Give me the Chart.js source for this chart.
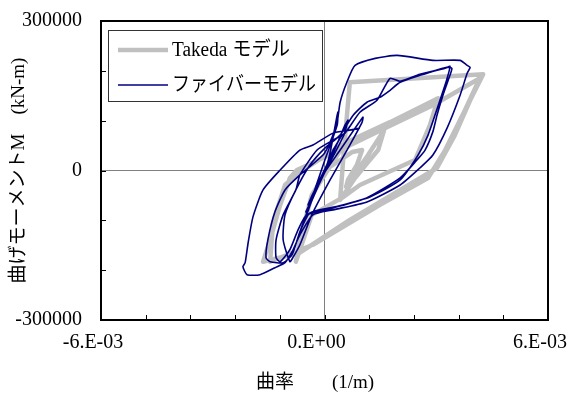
<!DOCTYPE html>
<html>
<head>
<meta charset="utf-8">
<script src="https://cdn.jsdelivr.net/npm/chart.js@4.4.0/dist/chart.umd.min.js"></script>
<style>body{margin:0;background:#fff}</style>
</head>
<body>
<canvas id="hysChart" width="579" height="394"></canvas>
<script>
// curvature (1/m) and moment (kN-m)
const takedaCurv = [0, 0.42e-3, 0.74e-3, 1.01e-3, 0.87e-3, 0.63e-3, 0.58e-3, 0.74e-3, 1.17e-3, 1.60e-3,
  1.44e-3, 1.17e-3, 0.82e-3, 0.42e-3, 0.50e-3, 0.58e-3, 0.68e-3, 2.03e-3, 4.26e-3, 3.91e-3,
  3.50e-3, 3.02e-3, 2.03e-3, 0.68e-3, -0.66e-3, -1.65e-3, -1.46e-3, -1.19e-3, -0.93e-3, -0.74e-3,
  0.42e-3, 1.62e-3, 2.91e-3, 4.17e-3, 3.77e-3, 3.24e-3, 2.78e-3, 1.49e-3, -0.31e-3, -1.46e-3,
  -1.38e-3, -1.06e-3, -0.66e-3, 0.55e-3, 1.76e-3, 3.05e-3, 2.83e-3, 2.43e-3, 0.95e-3, 0.47e-3,
  -0.34e-3, -0.77e-3, -0.66e-3, -0.34e-3, 0.55e-3];
const takedaMom = [0, 21000, 37000, 41000, 11000, -19000, -33000, -15000, 31000, 81000,
  41000, 17000, -15000, -59000, 21000, 91000, 177000, 183000, 193000, 141000,
  71000, 5000, -39000, -99000, -165000, -183000, -139000, -69000, -15000, 1000,
  41000, 85000, 131000, 185000, 121000, 41000, -15000, -69000, -149000, -183000,
  -103000, -29000, -3000, 55000, 97000, 145000, 91000, 21000, -29000, -55000,
  -89000, -183000, -139000, -49000, 55000];

const fiberCurv = [0, 0.23e-3, 0.47e-3, 0.36e-3, -0.07e-3, -0.44e-3, -0.34e-3, 0.15e-3, 0.55e-3, 0.63e-3,
  0.52e-3, 0.04e-3, -0.50e-3, -0.39e-3, 0.09e-3, 0.34e-3, 0.36e-3, 0.34e-3, 0.01e-3, -0.52e-3,
  -0.66e-3, -0.55e-3, -0.12e-3, 0.42e-3, 1.03e-3, 1.01e-3, 0.68e-3, 0.15e-3, -0.34e-3, -0.66e-3,
  -0.85e-3, -0.93e-3, -1.11e-3, -1.06e-3, -0.77e-3, -0.39e-3, 0.01e-3, 0.42e-3, 0.77e-3, 1.14e-3,
  1.49e-3, 1.76e-3, 2.03e-3, 2.56e-3, 3.28e-3, 3.42e-3, 3.32e-3, 3.18e-3, 3.02e-3, 2.91e-3,
  2.70e-3, 2.48e-3, 2.03e-3, 1.13e-3, 0.23e-3, -0.48e-3, -0.71e-3, -0.93e-3, -1.19e-3, -1.30e-3,
  -1.30e-3, -1.11e-3, -0.77e-3, -0.66e-3, -0.20e-3, 0.23e-3, 0.55e-3, 0.95e-3, 1.41e-3, 1.76e-3,
  2.03e-3, 2.56e-3, 3.24e-3, 3.37e-3, 3.26e-3, 3.10e-3, 2.78e-3, 2.51e-3, 2.03e-3, 1.22e-3,
  0.28e-3, -0.39e-3, -0.66e-3, -0.87e-3, -1.11e-3, -1.46e-3, -1.57e-3, -1.52e-3, -1.33e-3, -1.06e-3,
  -0.66e-3, -0.04e-3, 0.15e-3, 0.34e-3, 0.42e-3, 0.60e-3, 0.82e-3, 1.36e-3, 1.95e-3, 2.91e-3,
  3.64e-3, 3.83e-3, 3.91e-3, 3.83e-3, 3.64e-3, 3.29e-3, 2.91e-3, 2.56e-3, 2.03e-3, 1.14e-3,
  0.23e-3, -0.31e-3, -0.66e-3, -0.87e-3, -1.06e-3, -1.33e-3, -1.73e-3, -2.08e-3, -2.19e-3, -2.13e-3,
  -2.05e-3, -1.92e-3, -1.65e-3, -1.19e-3, -0.66e-3, -0.31e-3, 0.23e-3, 0.68e-3, 0.95e-3];
const fiberMom = [0, 41000, 71000, 57000, -9000, -69000, -51000, 21000, 91000, 101000,
  71000, 1000, -83000, -69000, 17000, 111000, 117000, 91000, 21000, -95000,
  -123000, -103000, -19000, 41000, 107000, 97000, 51000, -19000, -89000, -149000,
  -175000, -183000, -139000, -89000, -39000, 11000, 45000, 71000, 111000, 137000,
  147000, 161000, 177000, 191000, 207000, 205000, 181000, 151000, 111000, 78000,
  41000, 21000, -15000, -55000, -75000, -89000, -119000, -159000, -183000, -175000,
  -139000, -89000, -39000, -9000, 41000, 61000, 75000, 117000, 141000, 185000,
  179000, 193000, 205000, 209000, 177000, 141000, 71000, 31000, -19000, -53000,
  -73000, -85000, -123000, -169000, -185000, -183000, -175000, -139000, -83000, -39000,
  -9000, 31000, 57000, 97000, 137000, 177000, 211000, 225000, 231000, 221000,
  221000, 211000, 207000, 195000, 151000, 85000, 31000, 5000, -29000, -63000,
  -79000, -89000, -129000, -163000, -185000, -195000, -209000, -209000, -193000, -185000,
  -145000, -93000, -39000, 1000, 41000, 51000, 75000, 81000, 85000];

const xMin = -6e-3, xMax = 6e-3, xStep = 1.2e-3;
const yMin = -300000, yMax = 300000, yStep = 100000;

function toPts(xs, ys) {
  return xs.map((x, i) => ({ x: x, y: ys[i] }));
}

// Excel style "-6.E-03"
function sciLabel(v) {
  if (Math.abs(v) < 1e-12) return '0.E+00';
  const e = Math.floor(Math.log10(Math.abs(v)) + 1e-9);
  const m = Math.round(v / Math.pow(10, e));
  const ea = String(Math.abs(e)).padStart(2, '0');
  return m + '.E' + (e < 0 ? '-' : '+') + ea;
}

const serif = '"Liberation Serif", "Times New Roman", serif';
const jp = '"Liberation Serif", "Noto Sans CJK JP", sans-serif';

const frame = {
  id: 'frame',
  afterDraw(chart) {
    const c = chart.ctx, a = chart.chartArea;
    const xs = chart.scales.x, ys = chart.scales.y;
    c.save();
    c.strokeStyle = '#000';
    c.lineWidth = 1;
    // inward tick marks
    c.beginPath();
    xs.ticks.forEach(t => {
      const px = Math.round(xs.getPixelForValue(t.value)) + 0.5;
      c.moveTo(px, a.bottom); c.lineTo(px, a.bottom - 5);
    });
    ys.ticks.forEach(t => {
      const py = Math.round(ys.getPixelForValue(t.value)) + 0.5;
      c.moveTo(a.left, py); c.lineTo(a.left + 5, py);
    });
    c.stroke();
    c.lineWidth = 2;
    c.strokeRect(a.left, a.top, a.right - a.left, a.bottom - a.top);

    // legend box
    const lx = 108, ly = 30, lw = 214, lh = 71;
    c.fillStyle = '#fff';
    c.fillRect(lx, ly, lw, lh);
    c.lineWidth = 1;
    c.strokeStyle = '#333';
    c.strokeRect(lx + 0.5, ly + 0.5, lw, lh);
    const rows = [50, 85];
    const widths = [118, 144];
    chart.data.datasets.forEach((ds, i) => {
      const y = rows[i];
      c.strokeStyle = ds.borderColor;
      c.lineWidth = ds.borderWidth;
      c.beginPath();
      c.moveTo(118, y); c.lineTo(168, y);
      c.stroke();
      c.fillStyle = '#000';
      c.font = '20px ' + jp;
      c.textBaseline = 'middle';
      c.textAlign = 'left';
      c.fillText(ds.label, 172, y + 1, widths[i]);
    });
    c.restore();
  }
};

new Chart(document.getElementById('hysChart'), {
  type: 'scatter',
  data: {
    datasets: [{
      label: 'Takeda モデル',
      data: toPts(takedaCurv, takedaMom),
      showLine: true,
      borderColor: '#C0C0C0',
      borderWidth: 4.5,
      pointRadius: 0,
      borderJoinStyle: 'round',
      order: 2
    }, {
      label: 'ファイバーモデル',
      data: toPts(fiberCurv, fiberMom),
      showLine: true,
      borderColor: '#000080',
      borderWidth: 1.6,
      pointRadius: 0,
      tension: 0.2,
      order: 1
    }]
  },
  options: {
    responsive: false,
    animation: false,
    devicePixelRatio: 1,
    layout: { padding: { top: 21, right: 31, left: 0, bottom: 0 } },
    plugins: { legend: { display: false }, tooltip: { enabled: false } },
    scales: {
      x: {
        type: 'linear',
        min: xMin, max: xMax,
        afterFit: s => { s.height = 74; s.paddingLeft = 0; s.paddingRight = 0; },
        ticks: {
          stepSize: xStep,
          autoSkip: false,
          maxRotation: 0,
          padding: 11,
          labelOffset: -8,
          color: '#000',
          font: { family: serif, size: 20 },
          callback: v => (Math.abs(v) < 1e-9 || Math.abs(Math.abs(v) - 6e-3) < 1e-9) ? sciLabel(v) : ''
        },
        grid: {
          drawTicks: false,
          lineWidth: 1,
          color: c => (c.tick && Math.abs(c.tick.value) < 1e-9) ? '#808080' : 'rgba(0,0,0,0)'
        },
        border: { display: false },
        title: {
          display: true,
          text: '曲率\u3000\u3000(1/m)\u3000',
          color: '#000',
          font: { family: jp, size: 19 },
          padding: { top: 0, bottom: 0 }
        }
      },
      y: {
        type: 'linear',
        min: yMin, max: yMax,
        afterFit: s => { s.width = 101; s.paddingTop = 0; s.paddingBottom = 0; },
        ticks: {
          stepSize: yStep,
          autoSkip: false,
          padding: 19,
          color: '#000',
          font: { family: serif, size: 20 },
          callback: v => (v % 300000 === 0) ? String(v) : ''
        },
        grid: {
          drawTicks: false,
          lineWidth: 1,
          color: c => (c.tick && c.tick.value === 0) ? '#808080' : 'rgba(0,0,0,0)'
        },
        border: { display: false },
        title: {
          display: true,
          text: '曲げモーメントM\u3000(kN-m)',
          color: '#000',
          font: { family: jp, size: 19 },
          padding: { top: 8, bottom: 0 }
        }
      }
    }
  },
  plugins: [frame]
});
</script>
</body>
</html>
